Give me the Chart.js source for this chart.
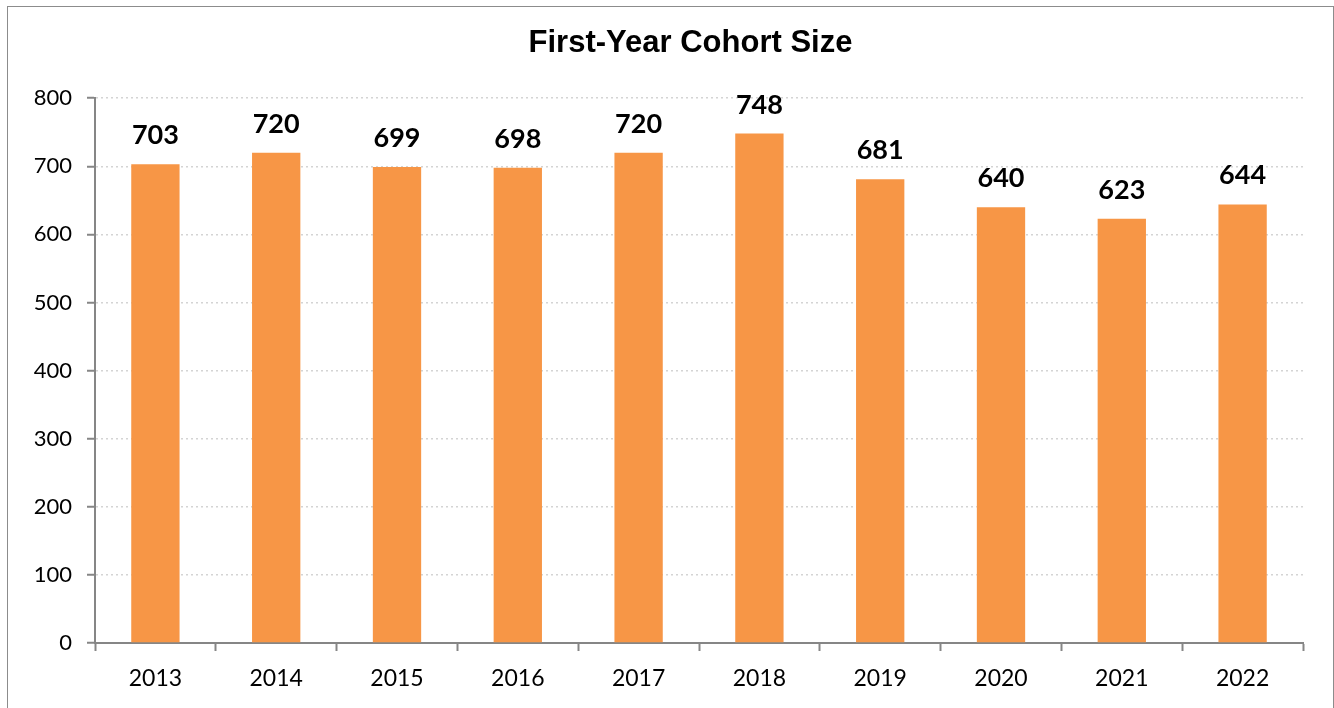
<!DOCTYPE html>
<html>
<head>
<meta charset="utf-8">
<script src="https://cdn.jsdelivr.net/npm/chart.js@4.4.0/dist/chart.umd.min.js"></script>
<style>
  body { margin: 0; background: #fff; }
  #wrap { position: relative; width: 1334px; height: 708px; overflow: hidden; }
  #frame { position: absolute; left: 7px; top: 6px; width: 1325px; height: 720px;
           border: 1px solid #8c8c8c; pointer-events: none; }
  canvas { position: absolute; left: 0; top: 0; }
</style>
</head>
<body>
<div id="wrap">
  <canvas id="chart" width="1334" height="708"></canvas>
  <div id="frame"></div>
</div>
<script>
// dati del grafico
const years = ['2013', '2014', '2015', '2016', '2017', '2018', '2019', '2020', '2021', '2022'];
const cohortSize = [703, 720, 699, 698, 720, 748, 681, 640, 623, 644];
const yTicks = [0, 100, 200, 300, 400, 500, 600, 700, 800];

// etichette sopra le barre
const barLabels = {
    id: 'barLabels',
    afterDatasetsDraw(chart) {
        const ctx = chart.ctx;
        const meta = chart.getDatasetMeta(0);
        ctx.save();
        ctx.font = 'bold 27px Lato';
        ctx.fillStyle = '#000';
        ctx.textAlign = 'center';
        ctx.textBaseline = 'alphabetic';
        meta.data.forEach((bar, i) => {
            ctx.fillText(String(cohortSize[i]), bar.x, bar.y - 20);
        });
        ctx.restore();
    }
};

// sposta il titolo un po' a destra, come nell'originale
const titleShift = {
    id: 'titleShift',
    afterLayout(chart) {
        if (chart.titleBlock) {
            chart.titleBlock.left = 78;
            chart.titleBlock.right = chart.chartArea.right;
        }
    }
};

const ctx = document.getElementById('chart').getContext('2d');
new Chart(ctx, {
    type: 'bar',
    data: {
        labels: years,
        datasets: [{
            data: cohortSize,
            backgroundColor: '#F79646',
            borderWidth: 0,
            barPercentage: 0.4,
            categoryPercentage: 1
        }]
    },
    options: {
        responsive: false,
        animation: false,
        layout: { padding: { left: 0, right: 31, top: 0, bottom: 0 } },
        plugins: {
            legend: { display: false },
            tooltip: { enabled: false },
            title: {
                display: true,
                text: 'First-Year Cohort Size',
                color: '#000',
                font: { family: 'Liberation Sans', size: 31, weight: 'bold', lineHeight: 1.2 },
                padding: { top: 25, bottom: 36 }
            }
        },
        scales: {
            x: {
                offset: true,
                grid: {
                    offset: true,
                    drawOnChartArea: false,
                    drawTicks: true,
                    tickLength: 8,
                    tickColor: '#868686',
                    tickWidth: 2
                },
                border: { color: '#868686', width: 2 },
                ticks: {
                    color: '#000',
                    font: { family: 'Lato', size: 23 },
                    padding: 14,
                    maxRotation: 0
                },
                afterFit(scale) { scale.height = 65; }
            },
            y: {
                min: 0,
                max: 800,
                afterBuildTicks(scale) {
                    scale.ticks = yTicks.map(v => ({ value: v }));
                },
                grid: {
                    color: '#d4d4d4',
                    lineWidth: 1.5,
                    tickLength: 8,
                    tickColor: '#868686',
                    tickWidth: 2,
                    tickBorderDash: []
                },
                border: { color: '#868686', width: 2, dash: [2, 3] },
                ticks: {
                    color: '#000',
                    font: { family: 'Lato', size: 22 },
                    padding: 15
                },
                afterFit(scale) { scale.width = 95; }
            }
        }
    },
    plugins: [barLabels, titleShift]
});
</script>
</body>
</html>
